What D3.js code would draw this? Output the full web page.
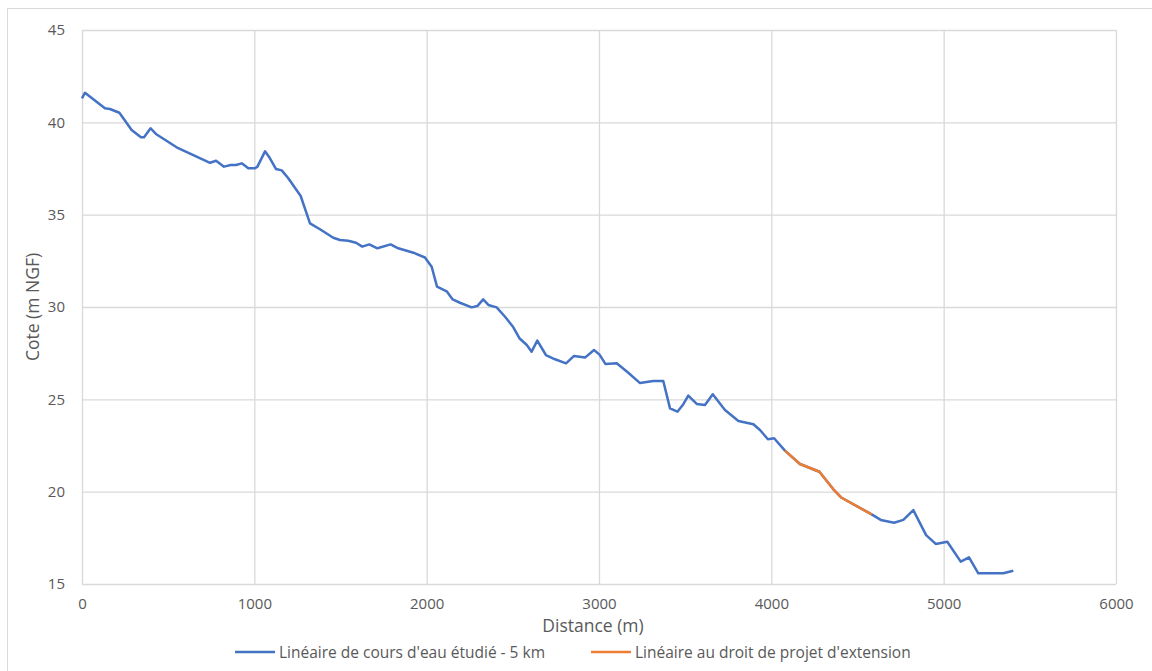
<!DOCTYPE html>
<html>
<head>
<meta charset="utf-8">
<script src="https://cdn.jsdelivr.net/npm/d3@7/dist/d3.min.js"></script>
<style>
  html, body { margin: 0; padding: 0; background: #fff; }
  svg { display: block; }
  text { font-family: "Open Sans", "Liberation Sans", sans-serif; fill: #595959; }
</style>
</head>
<body>
<svg id="chart" width="1152" height="671"></svg>
<script>
// Series 1: Linéaire de cours d'eau étudié - 5 km
const distMain = [0, 17, 133, 162, 217, 288, 342, 360, 398, 429, 549, 743, 778, 824, 863, 894, 927, 965, 1004, 1018, 1062, 1089, 1126, 1159, 1197, 1269, 1323, 1381, 1458, 1497, 1545, 1590, 1626, 1667, 1714, 1791, 1835, 1923, 1990, 2029, 2060, 2116, 2151, 2193, 2261, 2294, 2328, 2358, 2406, 2455, 2503, 2538, 2581, 2609, 2642, 2692, 2745, 2809, 2855, 2919, 2971, 3003, 3038, 3103, 3170, 3238, 3315, 3373, 3412, 3455, 3486, 3518, 3567, 3615, 3660, 3731, 3809, 3896, 3934, 3980, 4016, 4079, 4166, 4279, 4360, 4408, 4582, 4635, 4712, 4766, 4824, 4898, 4954, 5021, 5099, 5147, 5201, 5346, 5404];
const coteMain = [41.3, 41.6, 40.76, 40.72, 40.52, 39.58, 39.19, 39.19, 39.68, 39.37, 38.65, 37.81, 37.92, 37.6, 37.69, 37.69, 37.78, 37.51, 37.51, 37.6, 38.43, 38.08, 37.47, 37.4, 36.97, 36.01, 34.53, 34.21, 33.75, 33.63, 33.59, 33.48, 33.27, 33.39, 33.18, 33.39, 33.18, 32.94, 32.68, 32.18, 31.1, 30.85, 30.41, 30.23, 29.98, 30.05, 30.41, 30.11, 29.98, 29.47, 28.9, 28.31, 27.94, 27.58, 28.18, 27.4, 27.17, 26.95, 27.35, 27.26, 27.67, 27.42, 26.91, 26.95, 26.44, 25.88, 25.99, 25.99, 24.51, 24.33, 24.69, 25.2, 24.75, 24.69, 25.27, 24.42, 23.83, 23.65, 23.34, 22.84, 22.89, 22.22, 21.5, 21.08, 20.13, 19.67, 18.77, 18.47, 18.32, 18.47, 19.0, 17.65, 17.17, 17.29, 16.21, 16.44, 15.58, 15.58, 15.72];
// Series 2: Linéaire au droit de projet d'extension
const distExt = [4079, 4166, 4279, 4360, 4408, 4582];
const coteExt = [22.22, 21.5, 21.08, 20.13, 19.67, 18.77];

const xTicks = [0, 1000, 2000, 3000, 4000, 5000, 6000];
const yTicks = [15, 20, 25, 30, 35, 40, 45];
const seriesNames = ["Linéaire de cours d'eau étudié - 5 km", "Linéaire au droit de projet d'extension"];
const seriesColors = ["#4472c4", "#ed7d31"];

const svg = d3.select("#chart");
const pLeft = 82, pRight = 1116, pTop = 30, pBottom = 584;

// outer chart border
svg.append("rect").attr("x", 7.5).attr("y", 8.5).attr("width", 1160).attr("height", 680)
  .attr("fill", "none").attr("stroke", "#d9d9d9").attr("stroke-width", 1);

const x = d3.scaleLinear().domain([0, 6000]).range([pLeft, pRight]);
const y = d3.scaleLinear().domain([15, 45]).range([pBottom, pTop]);

// gridlines
const gx = svg.append("g").attr("transform", `translate(0,${pBottom})`)
  .call(d3.axisBottom(x).tickValues(xTicks).tickSize(-(pBottom - pTop)).tickPadding(14).tickFormat(d3.format("d")));
gx.select(".domain").remove();
gx.selectAll("line").attr("stroke", "#d9d9d9").attr("stroke-width", 1.3);
gx.selectAll("text").attr("font-size", 15).attr("fill", "#595959");

const gy = svg.append("g").attr("transform", `translate(${pLeft},0)`)
  .call(d3.axisLeft(y).tickValues(yTicks).tickSize(-(pRight - pLeft)).tickPadding(17).tickFormat(d3.format("d")));
gy.select(".domain").remove();
gy.selectAll("line").attr("stroke", "#d9d9d9").attr("stroke-width", 1.3);
gy.selectAll("text").attr("font-size", 15).attr("fill", "#595959");

// axis titles
svg.append("text").attr("x", 593).attr("y", 632).attr("text-anchor", "middle")
  .attr("font-size", 17.5).text("Distance (m)");
svg.append("text").attr("transform", `translate(39,${(pTop + pBottom) / 2}) rotate(-90)`)
  .attr("text-anchor", "middle").attr("font-size", 17.5).text("Cote (m NGF)");

// lines
const line = d3.line().x(d => x(d[0])).y(d => y(d[1]));
const mainData = distMain.map((d, i) => [d, coteMain[i]]);
const extData = distExt.map((d, i) => [d, coteExt[i]]);
svg.append("path").datum(mainData).attr("d", line).attr("fill", "none")
  .attr("stroke", seriesColors[0]).attr("stroke-width", 2.5).attr("stroke-linejoin", "round");
svg.append("path").datum(extData).attr("d", line).attr("fill", "none")
  .attr("stroke", seriesColors[1]).attr("stroke-width", 2.5).attr("stroke-linejoin", "round");

// legend
const legendX = [235, 591];
seriesNames.forEach((name, i) => {
  const g = svg.append("g").attr("transform", `translate(${legendX[i]},652)`);
  g.append("line").attr("x1", 0).attr("x2", 40).attr("y1", 0).attr("y2", 0)
    .attr("stroke", seriesColors[i]).attr("stroke-width", 2.5);
  g.append("text").attr("x", 44).attr("y", 5.5).attr("font-size", 15.5).text(name);
});
</script>
</body>
</html>
